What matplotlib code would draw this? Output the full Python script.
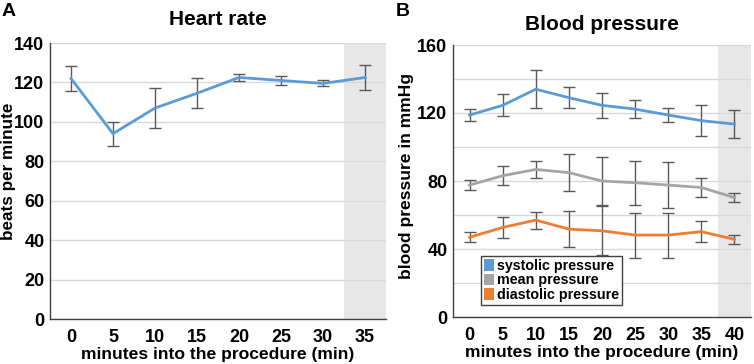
import matplotlib
matplotlib.use("Agg")
import matplotlib.pyplot as plt
from matplotlib.patches import Patch
import numpy as np

plt.rcParams['font.family'] = ['Liberation Sans', 'DejaVu Sans']

# Panel A: heart rate
hr_minutes = ["0", "5", "10", "15", "20", "25", "30", "35"]
hr_mean = [122, 94, 107, 114.5, 122.5, 121, 119.5, 122.5]
hr_err = [6.5, 6, 10, 7.5, 1.7, 2.3, 1.5, 6.5]

# Panel B: blood pressure
bp_minutes = ["0", "5", "10", "15", "20", "25", "30", "35", "40"]
sys_mean = [118.8, 124.5, 134, 129, 124.5, 122.3, 118.8, 115.5, 113.5]
sys_err = [3.5, 6.5, 11, 6, 7.5, 5.3, 4.3, 9, 8]
mean_mean = [77.6, 83.1, 86.8, 84.9, 80, 79, 77.6, 76.2, 70.2]
mean_err = [3, 5.7, 5, 10.8, 14.2, 13, 13.4, 5.6, 2.5]
dia_mean = [46.9, 52.7, 57, 51.7, 50.7, 48.2, 48.2, 50.2, 45.7]
dia_err = [3, 6, 5, 10.5, 14.5, 13.2, 13.2, 6, 2.5]

BLUE = '#5B9BD5'
GRAY = '#A5A5A5'
ORANGE = '#ED7D31'
ERR = '#595959'
GRID = '#D9D9D9'
SHADE = '#E7E7E7'

W, H = 754, 364
fig = plt.figure(figsize=(W/100, H/100), dpi=100)

def style(ax, n, shade_from):
    ax.set_xlim(-0.5, n - 0.5)
    ax.axvspan(shade_from - 0.5, n - 0.5, color=SHADE, zorder=0, lw=0)
    for s in ['top', 'right']:
        ax.spines[s].set_visible(False)
    for s in ['left', 'bottom']:
        ax.spines[s].set_color('#404040')
        ax.spines[s].set_linewidth(1.0)
    ax.tick_params(axis='both', length=0, labelsize=13)
    ax.tick_params(axis='x', pad=7)
    ax.tick_params(axis='y', pad=4)
    for lab in ax.get_xticklabels() + ax.get_yticklabels():
        lab.set_fontweight('bold')

EB = dict(lw=2, ecolor=ERR, elinewidth=1, capsize=4, capthick=1, zorder=3)

# Panel A
axA = fig.add_axes([50/W, 1-319/H, 336/W, 276/H])
xA = np.arange(len(hr_minutes))
for v in range(0, 141, 20):
    axA.axhline(v, color=GRID, lw=1, zorder=1)
axA.errorbar(xA, hr_mean, yerr=hr_err, color=BLUE, **EB)
axA.set_ylim(0, 140)
axA.set_yticks(range(0, 141, 20))
axA.set_xticks(xA)
axA.set_xticklabels(hr_minutes)
style(axA, len(hr_minutes), 7)
axA.set_title('Heart rate', fontsize=15, fontweight='bold', pad=13)
axA.set_xlabel('minutes into the procedure (min)', fontsize=12.6, fontweight='bold', labelpad=1)
axA.set_ylabel('beats per minute', fontsize=12.3, fontweight='bold')
axA.yaxis.set_label_coords((16.5 - 50)/336, (319 - 171)/276)
fig.text(2/W, 1-12/H, 'A', fontsize=14, fontweight='bold', va='center', ha='left')

# Panel B
axB = fig.add_axes([453/W, 1-317/H, 298/W, 272/H])
xB = np.arange(len(bp_minutes))
for v in range(0, 161, 20):
    axB.axhline(v, color=GRID, lw=1, zorder=1)
axB.errorbar(xB, sys_mean, yerr=sys_err, color=BLUE, **EB)
axB.errorbar(xB, mean_mean, yerr=mean_err, color=GRAY, **EB)
axB.errorbar(xB, dia_mean, yerr=dia_err, color=ORANGE, **EB)
axB.set_ylim(0, 160)
axB.set_yticks(range(0, 161, 40))
axB.set_xticks(xB)
axB.set_xticklabels(bp_minutes)
style(axB, len(bp_minutes), 8)
axB.set_title('Blood pressure', fontsize=15, fontweight='bold', pad=11)
axB.set_xlabel('minutes into the procedure (min)', fontsize=12.6, fontweight='bold', labelpad=1)
axB.set_ylabel('blood pressure in mmHg', fontsize=12.6, fontweight='bold')
axB.yaxis.set_label_coords((414 - 453)/298, (317 - 176)/272)
fig.text(396/W, 1-12/H, 'B', fontsize=14, fontweight='bold', va='center', ha='left')

handles = [Patch(facecolor=BLUE, label='systolic pressure'),
           Patch(facecolor=GRAY, label='mean pressure'),
           Patch(facecolor=ORANGE, label='diastolic pressure')]
leg = axB.legend(handles=handles, loc='lower left', bbox_to_anchor=(28/298, 12/272),
                 borderaxespad=0, frameon=True, fancybox=False, handlelength=0.7,
                 handleheight=0.9, handletextpad=0.2, labelspacing=0.05, borderpad=0.2,
                 prop={'size': 10.3, 'weight': 'bold'})
leg.get_frame().set_edgecolor('#404040')
leg.get_frame().set_linewidth(1.0)
leg.get_frame().set_alpha(1)

fig.savefig('out.png', dpi=100)
